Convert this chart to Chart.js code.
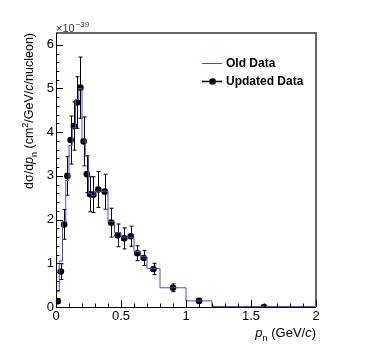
<!DOCTYPE html>
<html><head><meta charset="utf-8">
<script src="https://cdn.jsdelivr.net/npm/chart.js@4/dist/chart.umd.min.js"></script>
<style>html,body{margin:0;padding:0;background:#fff;}canvas{display:block;}</style>
</head><body>
<canvas id="c" width="374" height="363"></canvas>
<script>
const binEdges = [0,0.025,0.05,0.075,0.1,0.125,0.15,0.175,0.2,0.225,0.25,0.275,0.3,0.35,0.4,0.45,0.5,0.55,0.6,0.65,0.7,0.8,1.0,1.2,2.0];
const oldData = [0.35,1.05,1.95,2.9,3.7,4.1,4.75,5.0,3.85,3.45,2.6,2.55,2.65,2.65,1.95,1.7,1.6,1.6,1.27,1.15,0.88,0.44,0.14,0.01];
const updatedX = [0.0125,0.0375,0.0625,0.0875,0.1125,0.1375,0.1625,0.1875,0.2125,0.2375,0.2625,0.2875,0.325,0.375,0.425,0.475,0.525,0.575,0.625,0.675,0.75,0.9,1.1,1.6];
const updatedY = [0.13,0.81,1.89,3.0,3.82,4.14,4.68,5.02,3.79,3.04,2.58,2.57,2.69,2.64,1.93,1.64,1.57,1.62,1.23,1.12,0.87,0.44,0.14,0.0];
const updatedErr = [0.05,0.18,0.34,0.44,0.55,0.55,0.59,0.70,0.56,0.42,0.40,0.41,0.41,0.40,0.33,0.26,0.24,0.23,0.17,0.17,0.13,0.09,0.04,0.01];
const xTicks = [0, 0.5, 1, 1.5, 2];
const xTickLabels = ["0","0.5","1","1.5","2"];
const yTicks = [0,1,2,3,4,5,6];
const yTickLabels = ["0","1","2","3","4","5","6"];

const FONT = '"Liberation Sans", Arial, Helvetica, sans-serif';
const oldPts = [{x:0,y:0}];
for (let i=0;i<oldData.length;i++) oldPts.push({x:binEdges[i], y:oldData[i]});
oldPts.push({x:binEdges[binEdges.length-1], y:oldData[oldData.length-1]});
const updPts = updatedX.map((x,i)=>({x:x,y:updatedY[i]}));

function richText(ctx, parts, x, y, align, base){
  const fontFor = s => (s==='i' ? 'italic ' : '') + ((s==='sub'||s==='sup') ? '9px ' : base+'px ') + FONT;
  let w = 0;
  parts.forEach(p=>{ctx.font=fontFor(p[1]); w+=ctx.measureText(p[0]).width;});
  let cx = align==='right' ? x - w : (align==='center' ? x - w/2 : x);
  parts.forEach(p=>{
    ctx.font=fontFor(p[1]);
    let dy = p[1]==='sub' ? 4 : (p[1]==='sup' ? -5 : 0);
    ctx.fillText(p[0], cx, y+dy);
    cx += ctx.measureText(p[0]).width;
  });
}

const deco = {
  id:'deco',
  beforeDatasetsDraw(chart){
    const ctx = chart.ctx, xs = chart.scales.x, ys = chart.scales.y;
    ctx.save();
    ctx.strokeStyle = '#000'; ctx.lineWidth = 1;
    for (let i=0;i<updatedX.length;i++){
      const px = Math.round(xs.getPixelForValue(updatedX[i]))+0.5;
      const y1 = ys.getPixelForValue(updatedY[i]+updatedErr[i]);
      const y0 = ys.getPixelForValue(Math.max(0,updatedY[i]-updatedErr[i]));
      ctx.beginPath();
      ctx.moveTo(px,y0); ctx.lineTo(px,y1);
      ctx.moveTo(px-2,y0); ctx.lineTo(px+2,y0);
      ctx.moveTo(px-2,y1); ctx.lineTo(px+2,y1);
      ctx.stroke();
    }
    ctx.restore();
  },
  afterDraw(chart){
    const ctx = chart.ctx, xs = chart.scales.x, ys = chart.scales.y, a = chart.chartArea;
    ctx.save();
    ctx.strokeStyle = '#666'; ctx.lineWidth = 2;
    ctx.beginPath();
    ctx.moveTo(a.left, a.top); ctx.lineTo(a.right, a.top); ctx.lineTo(a.right, a.bottom);
    ctx.stroke();
    ctx.strokeStyle = '#000'; ctx.lineWidth = 1;
    ctx.beginPath();
    ctx.moveTo(a.left+0.5, a.top); ctx.lineTo(a.left+0.5, a.bottom+0.5); ctx.lineTo(a.right, a.bottom+0.5);
    ctx.stroke();
    ctx.beginPath();
    for (let v=0; v<=2.0001; v+=0.1){
      const px = Math.round(xs.getPixelForValue(v))+0.5;
      const major = Math.abs(v*2-Math.round(v*2))<1e-6;
      ctx.moveTo(px, a.bottom); ctx.lineTo(px, a.bottom-(major?7:3.5));
    }
    for (let v=0; v<=6.2; v+=0.2){
      const py = Math.round(ys.getPixelForValue(v))+0.5;
      const major = Math.abs(v-Math.round(v))<1e-6;
      ctx.moveTo(a.left, py); ctx.lineTo(a.left+(major?7:3.5), py);
    }
    ctx.stroke();
    ctx.fillStyle = '#000';
    ctx.font = '13px ' + FONT;
    ctx.textAlign = 'center'; ctx.textBaseline = 'top';
    xTicks.forEach((v,i)=>ctx.fillText(xTickLabels[i], xs.getPixelForValue(v), a.bottom+3));
    ctx.textAlign = 'right'; ctx.textBaseline = 'middle';
    yTicks.forEach((v,i)=>ctx.fillText(yTickLabels[i], a.left-2, ys.getPixelForValue(v)));
    ctx.textAlign = 'left'; ctx.textBaseline = 'alphabetic';
    ctx.fillStyle = '#333';
    ctx.font = '11px ' + FONT;
    ctx.fillText('\u00d710', a.left, a.top-1);
    const w10 = ctx.measureText('\u00d710').width;
    ctx.font = '8px ' + FONT;
    ctx.fillText('\u221239', a.left+w10+1, a.top-6);
    ctx.fillStyle = '#000';
    ctx.textBaseline = 'alphabetic';
    richText(ctx, [['p','i'],['n','sub'],[' (GeV/','n'],['c','i'],[')','n']], a.right, 337, 'right', 13);
    ctx.save();
    ctx.translate(33, a.top);
    ctx.rotate(-Math.PI/2);
    richText(ctx, [['d\u03c3/d','n'],['p','i'],['n','sub'],[' (cm','n'],['2','sup'],['/GeV/','n'],['c','i'],['/nucleon)','n']], 0, 0, 'right', 12.5);
    ctx.restore();
    ctx.font = 'bold 12px ' + FONT;
    ctx.textBaseline = 'middle';
    ctx.fillText('Old Data', 226, 63.5);
    ctx.fillText('Updated Data', 226, 81.5);
    ctx.strokeStyle = '#4b4bd2'; ctx.lineWidth = 1;
    ctx.beginPath(); ctx.moveTo(202, 63.5); ctx.lineTo(222, 63.5); ctx.stroke();
    ctx.strokeStyle = '#000'; ctx.lineWidth = 1.5;
    ctx.beginPath(); ctx.moveTo(202, 81.5); ctx.lineTo(222, 81.5); ctx.stroke();
    ctx.beginPath(); ctx.arc(212.5, 81.5, 3.3, 0, Math.PI*2); ctx.fill();
    ctx.restore();
  }
};

new Chart(document.getElementById('c'), {
  type: 'scatter',
  data: { datasets: [
    { label:'Old Data', type:'line', data: oldPts, stepped:'before', borderColor:'#4b4bd2', borderWidth:1, pointRadius:0, fill:false, tension:0 },
    { label:'Updated Data', data: updPts, backgroundColor:'#000', borderColor:'#000', pointRadius:3.3, pointHoverRadius:3.3, borderWidth:0 }
  ]},
  options: {
    responsive:false, animation:false, devicePixelRatio:1,
    layout:{ padding:{ left:56, right:58, top:33, bottom:56 } },
    plugins:{ legend:{display:false}, tooltip:{enabled:false} },
    scales:{
      x:{ type:'linear', min:0, max:2, display:false },
      y:{ type:'linear', min:0, max:6.27, display:false }
    }
  },
  plugins:[deco]
});
</script>
</body></html>
